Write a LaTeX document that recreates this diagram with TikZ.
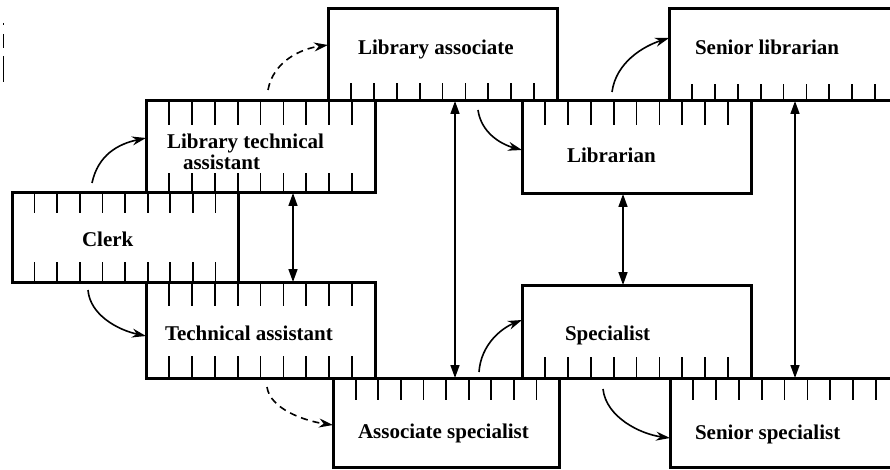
\documentclass[tikz,border=0pt]{standalone}
\usepackage{fontspec}
\setmainfont{Liberation Serif}
\usetikzlibrary{calc,arrows.meta}
\begin{document}
\begin{tikzpicture}[x=1pt,y=-1pt,
  box/.style={draw,line width=3pt,rectangle,outer sep=0pt,inner sep=0pt},
  tickline/.style={line width=1.8pt},
  lbl/.style={inner sep=0pt,outer sep=0pt,font=\fontsize{21}{21}\selectfont\bfseries,anchor=base west},
  dbl/.style={line width=1.6pt,{Triangle[length=13pt,width=9pt]}-{Triangle[length=13pt,width=9pt]}},
  prom/.style={line width=1.6pt,-{Stealth[length=14pt,width=9pt]}},
  promd/.style={prom,dash pattern=on 7pt off 5pt},
]
\useasboundingbox (0,0) rectangle (890,470);
\begin{scope}
\clip (0,0) rectangle (890,470);
% boxes
\node[box,minimum width=226pt,minimum height=89pt] (clerk) at (125,237.5) {};
\node[box,minimum width=229pt,minimum height=92pt] (lta) at (260.5,147) {};
\node[box,minimum width=229pt,minimum height=92pt] (la) at (442.5,55) {};
\node[box,minimum width=229pt,minimum height=93pt] (lib) at (636.5,147.5) {};
\node[box,minimum width=229pt,minimum height=92pt] (sl) at (783.5,55) {};
\node[box,minimum width=229pt,minimum height=96pt] (ta) at (260.5,330) {};
\node[box,minimum width=226pt,minimum height=89pt] (asp) at (446,422.5) {};
\node[box,minimum width=229pt,minimum height=93pt] (spec) at (636.5,331.5) {};
\node[box,minimum width=229pt,minimum height=89pt] (ss) at (784.5,422.5) {};
% ticks hanging from top edges
\foreach \n/\l in {clerk/20,lta/24,lib/24,ta/24,asp/22,ss/22}{
  \foreach \k in {1,...,9}{
    \draw[tickline] ($(\n.north west)!\k/10!(\n.north east)$) -- ++(0,\l);
  }
}
% ticks rising from bottom edges
\foreach \n/\l in {clerk/20,lta/20,la/18,sl/17,ta/22,spec/21}{
  \foreach \k in {1,...,9}{
    \draw[tickline] ($(\n.south west)!\k/10!(\n.south east)$) -- ++(0,-\l);
  }
}
\end{scope}
% scan mark at left
\draw[line width=1.3pt] (3.5,23) -- (3.5,25) (3.5,34) -- (3.5,48) (3.5,56) -- (3.5,82);
% labels
\node[lbl] (lat) at (358,55) {Library associate};
\node[lbl] (slt) at (695,55) {Senior librarian};
\node[inner sep=0pt,outer sep=0pt,font=\fontsize{21}{21}\selectfont\bfseries,align=left,anchor=west] (ltat) at (167,152) {Library technical\\\hspace*{16pt}assistant};
\node[lbl] (clerkt) at (82,246) {Clerk};
\node[lbl] (libt) at (567,163) {Librarian};
\node[lbl] (tat) at (165,340) {Technical assistant};
\node[lbl] (spect) at (565,340) {Specialist};
\node[lbl] (aspt) at (358,438) {Associate specialist};
\node[lbl] (sst) at (695,439) {Senior specialist};
% vertical double arrows
\draw[dbl] ([shift={(32.5,0)}]lta.south) -- ([shift={(32.5,0)}]ta.north);
\draw[dbl] ([shift={(12.5,0)}]la.south) -- ([shift={(9,0)}]asp.north);
\draw[dbl] ([shift={(-13.5,0)}]lib.south) -- ([shift={(-13.5,0)}]spec.north);
\draw[dbl] ([shift={(11.5,0)}]sl.south) -- ([shift={(10.5,0)}]ss.north);
% promotion arrows
\draw[prom] ([shift={(-33,-10)}]clerk.north) .. controls +(6,-28) and +(-28,6) .. ([shift={(0,-9)}]lta.west);
\draw[prom] ([shift={(-37,8)}]clerk.south) .. controls +(2,25) and +(-28,-6) .. ([shift={(0,6)}]ta.west);
\draw[promd] ([shift={(7.5,-11)}]lta.north) .. controls +(5,-28) and +(-28,4) .. ([shift={(0,-10)}]la.west);
\draw[promd] ([shift={(6.5,9)}]ta.south) .. controls +(3,22) and +(-28,-4) .. ([shift={(0,2.5)}]asp.west);
\draw[prom] ([shift={(35.5,9)}]la.south) .. controls +(3,22) and +(-22,-6) .. ([shift={(0,2.5)}]lib.west);
\draw[prom] ([shift={(-24.5,-9)}]lib.north) .. controls +(4,-30) and +(-25,8) .. ([shift={(0,-17)}]sl.west);
\draw[prom] ([shift={(33,-6)}]asp.north) .. controls +(2,-28) and +(-20,8) .. ([shift={(0,-11.5)}]spec.west);
\draw[prom] ([shift={(-33.5,11)}]spec.south) .. controls +(3,28) and +(-30,-4) .. ([shift={(0,15.5)}]ss.west);
\end{tikzpicture}
\end{document}
